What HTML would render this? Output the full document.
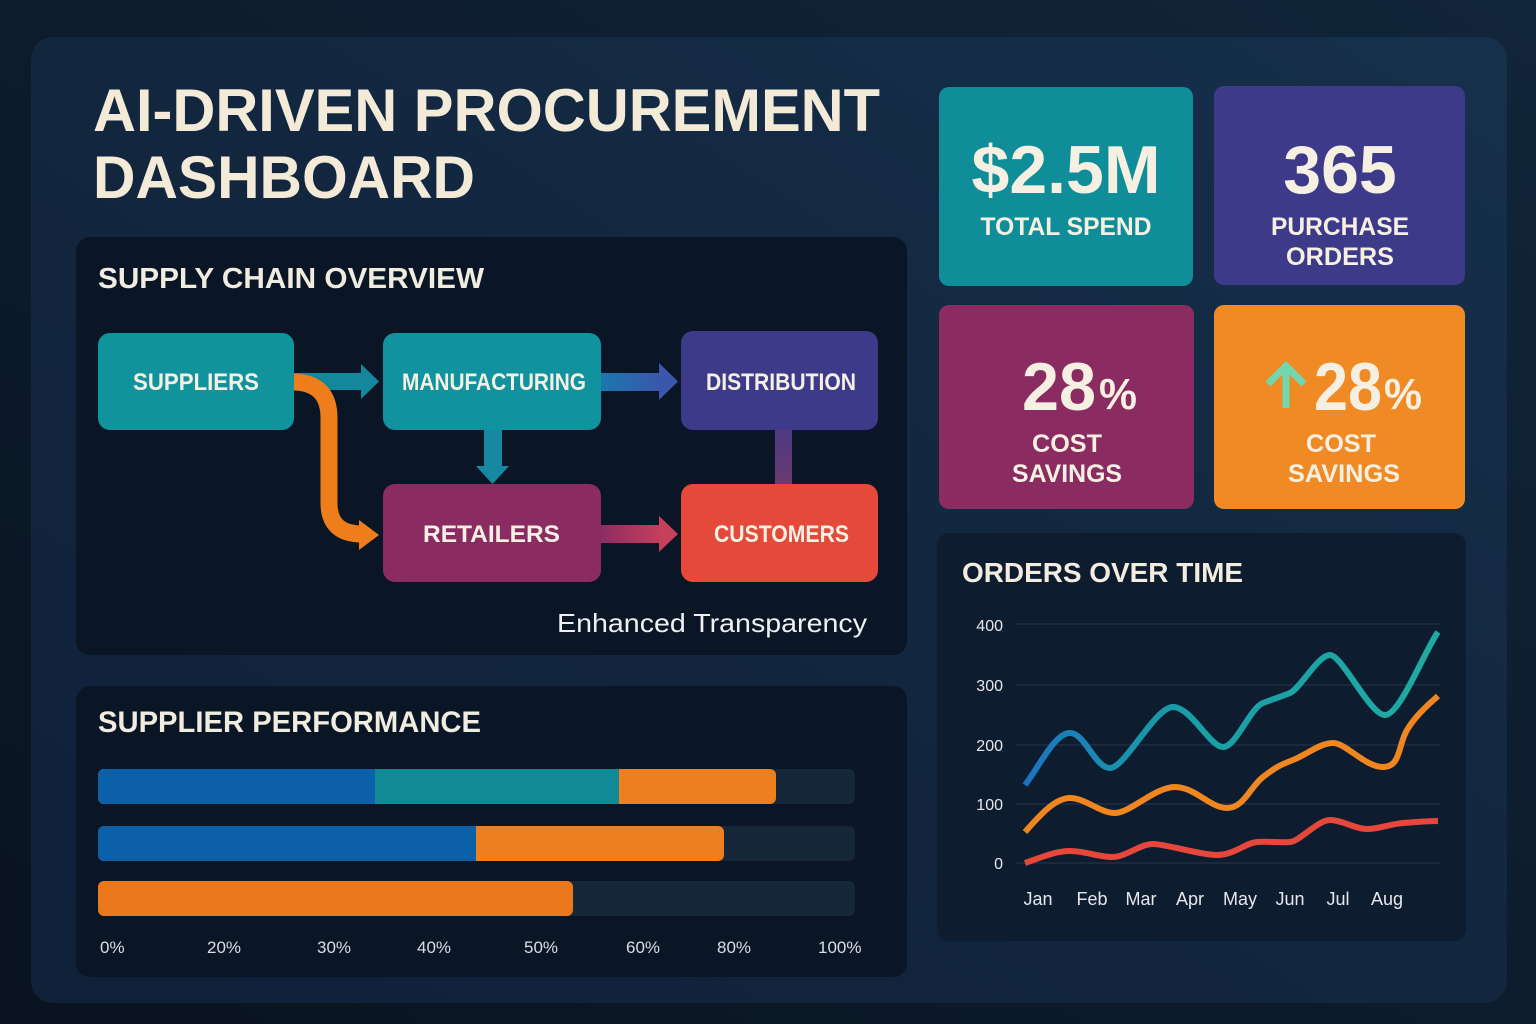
<!DOCTYPE html>
<html><head><meta charset="utf-8"><style>
html,body{margin:0;padding:0;background:#0c1a2b;}
svg{display:block;}
text{font-family:"Liberation Sans",sans-serif;}
</style></head><body>
<svg width="1536" height="1024" viewBox="0 0 1536 1024" xmlns="http://www.w3.org/2000/svg">
<defs>
<linearGradient id="bg" x1="0" y1="1" x2="1" y2="0">
<stop offset="0" stop-color="#09131f"/><stop offset="1" stop-color="#11253a"/>
</linearGradient>
<linearGradient id="panel" x1="0" y1="1" x2="1" y2="0">
<stop offset="0" stop-color="#10213a"/><stop offset="0.5" stop-color="#12263e"/><stop offset="1" stop-color="#16304b"/>
</linearGradient>
<linearGradient id="gMD" x1="0" x2="1"><stop offset="0" stop-color="#1a78ae"/><stop offset="1" stop-color="#3b55ad"/></linearGradient>
<linearGradient id="gRC" x1="0" x2="1"><stop offset="0" stop-color="#8a2c62"/><stop offset="1" stop-color="#c6405c"/></linearGradient>
<linearGradient id="gDC" x1="0" y1="0" x2="0" y2="1"><stop offset="0" stop-color="#4a3a84"/><stop offset="1" stop-color="#6d3a6e"/></linearGradient>
<linearGradient id="gTeal" gradientUnits="userSpaceOnUse" x1="1025" y1="0" x2="1438" y2="0">
<stop offset="0" stop-color="#1c72c0"/><stop offset="0.22" stop-color="#1a8fb0"/><stop offset="0.4" stop-color="#1a9ea6"/><stop offset="1" stop-color="#1faaa2"/>
</linearGradient>
</defs>
<rect width="1536" height="1024" fill="url(#bg)"/>
<rect x="31" y="37" width="1476" height="966" rx="22" fill="url(#panel)"/>

<!-- Title -->
<text x="93" y="131" font-size="60" font-weight="bold" fill="#f3ead8" textLength="787" lengthAdjust="spacingAndGlyphs">AI-DRIVEN PROCUREMENT</text>
<text x="93" y="198" font-size="60" font-weight="bold" fill="#f3ead8" textLength="382" lengthAdjust="spacingAndGlyphs">DASHBOARD</text>

<!-- Supply chain card -->
<rect x="76" y="237" width="831" height="418" rx="14" fill="#0a1625"/>
<text x="98" y="288" font-size="29" font-weight="bold" fill="#f1ece0" textLength="386" lengthAdjust="spacingAndGlyphs">SUPPLY CHAIN OVERVIEW</text>

<!-- arrows -->
<rect x="292" y="373" width="72" height="17" fill="#13879b"/>
<polygon points="361,364 379,381.5 361,399" fill="#13879b"/>
<rect x="599" y="373" width="63" height="18" fill="url(#gMD)"/>
<polygon points="659,363 678,381.5 659,400" fill="#3a57ac"/>
<rect x="484" y="428" width="18" height="40" fill="#1788a2"/>
<polygon points="476,466 509,466 492.5,484" fill="#1788a2"/>
<rect x="775" y="428" width="17" height="58" fill="url(#gDC)"/>
<rect x="599" y="525" width="63" height="18" fill="url(#gRC)"/>
<polygon points="659,516 678,534 659,552" fill="#c6405c"/>
<path d="M292 382 Q329 382 329 418 L329 503 Q329 534 362 534" fill="none" stroke="#ee7d1c" stroke-width="17"/>
<polygon points="359,520 379,535 359,550" fill="#ee7d1c"/>

<!-- boxes -->
<rect x="98" y="333" width="196" height="97" rx="12" fill="#11939e"/>
<rect x="383" y="333" width="218" height="97" rx="12" fill="#11929f"/>
<rect x="681" y="331" width="197" height="99" rx="12" fill="#3e3a8a"/>
<rect x="383" y="484" width="218" height="98" rx="12" fill="#8a2b61"/>
<rect x="681" y="484" width="197" height="98" rx="12" fill="#e4493a"/>
<text x="133" y="390" font-size="24" font-weight="bold" fill="#f5f0e4" textLength="126" lengthAdjust="spacingAndGlyphs">SUPPLIERS</text>
<text x="402" y="390" font-size="24" font-weight="bold" fill="#f5f0e4" textLength="184" lengthAdjust="spacingAndGlyphs">MANUFACTURING</text>
<text x="706" y="390" font-size="24" font-weight="bold" fill="#f5f0e4" textLength="150" lengthAdjust="spacingAndGlyphs">DISTRIBUTION</text>
<text x="423" y="542" font-size="24" font-weight="bold" fill="#f5f0e4" textLength="137" lengthAdjust="spacingAndGlyphs">RETAILERS</text>
<text x="714" y="542" font-size="24" font-weight="bold" fill="#f5f0e4" textLength="135" lengthAdjust="spacingAndGlyphs">CUSTOMERS</text>
<text x="557" y="632" font-size="26" fill="#eef0f2" textLength="310" lengthAdjust="spacingAndGlyphs">Enhanced Transparency</text>

<!-- Supplier performance -->
<rect x="76" y="686" width="831" height="291" rx="14" fill="#0a1625"/>
<text x="98" y="732" font-size="30" font-weight="bold" fill="#f1ece0" textLength="383" lengthAdjust="spacingAndGlyphs">SUPPLIER PERFORMANCE</text>
<rect x="98" y="769" width="757" height="35" rx="6" fill="#16273a"/>
<rect x="98" y="826" width="757" height="35" rx="6" fill="#16273a"/>
<rect x="98" y="881" width="757" height="35" rx="6" fill="#16273a"/>
<rect x="98" y="769" width="678" height="35" rx="6" fill="#ee7f1e"/>
<rect x="375" y="769" width="244" height="35" fill="#0f8a96"/>
<rect x="98" y="769" width="282" height="35" rx="6" fill="#0b60a9"/>
<rect x="375" y="769" width="244" height="35" fill="#0f8a96"/>
<rect x="98" y="826" width="626" height="35" rx="6" fill="#ee7f1e"/>
<rect x="98" y="826" width="378" height="35" rx="6" fill="#0b60a9"/>
<rect x="300" y="826" width="176" height="35" fill="#0b60a9"/>
<rect x="98" y="881" width="475" height="35" rx="6" fill="#ea781c"/>
<g font-size="17" fill="#d9dee6">
<text x="100" y="953">0%</text>
<text x="207" y="953">20%</text>
<text x="317" y="953">30%</text>
<text x="417" y="953">40%</text>
<text x="524" y="953">50%</text>
<text x="626" y="953">60%</text>
<text x="717" y="953">80%</text>
<text x="818" y="953">100%</text>
</g>

<!-- KPI cards -->
<rect x="939" y="87" width="254" height="199" rx="10" fill="#0f8e99"/>
<rect x="1214" y="86" width="251" height="199" rx="10" fill="#3d3a89"/>
<rect x="939" y="305" width="255" height="204" rx="10" fill="#8a2c62"/>
<rect x="1214" y="305" width="251" height="204" rx="10" fill="#f08a25"/>

<text x="1066" y="193" text-anchor="middle" font-size="68" font-weight="bold" fill="#f6f0e2">$2.5M</text>
<text x="1066" y="235" text-anchor="middle" font-size="25" font-weight="bold" fill="#f6f0e2" textLength="171" lengthAdjust="spacingAndGlyphs">TOTAL SPEND</text>
<text x="1340" y="193" text-anchor="middle" font-size="68" font-weight="bold" fill="#f6f0e2">365</text>
<text x="1340" y="235" text-anchor="middle" font-size="25" font-weight="bold" fill="#f6f0e2" textLength="138" lengthAdjust="spacingAndGlyphs">PURCHASE</text>
<text x="1340" y="265" text-anchor="middle" font-size="25" font-weight="bold" fill="#f6f0e2" textLength="108" lengthAdjust="spacingAndGlyphs">ORDERS</text>

<text x="1022" y="410" font-size="68" font-weight="bold" fill="#f6f0e2" textLength="74" lengthAdjust="spacingAndGlyphs">28</text>
<text x="1099" y="409" font-size="44" font-weight="bold" fill="#f6f0e2" textLength="38" lengthAdjust="spacingAndGlyphs">%</text>
<text x="1067" y="452" text-anchor="middle" font-size="25" font-weight="bold" fill="#f6f0e2" textLength="70" lengthAdjust="spacingAndGlyphs">COST</text>
<text x="1067" y="482" text-anchor="middle" font-size="25" font-weight="bold" fill="#f6f0e2" textLength="110" lengthAdjust="spacingAndGlyphs">SAVINGS</text>

<path d="M1286 408 L1286 370 M1268 384 L1286 366 L1304 384" fill="none" stroke="#72d6ae" stroke-width="7" stroke-linecap="butt"/>
<text x="1314" y="410" font-size="68" font-weight="bold" fill="#f6f0e2" textLength="68" lengthAdjust="spacingAndGlyphs">28</text>
<text x="1384" y="409" font-size="44" font-weight="bold" fill="#f6f0e2" textLength="38" lengthAdjust="spacingAndGlyphs">%</text>
<text x="1341" y="452" text-anchor="middle" font-size="25" font-weight="bold" fill="#f6f0e2" textLength="70" lengthAdjust="spacingAndGlyphs">COST</text>
<text x="1344" y="482" text-anchor="middle" font-size="25" font-weight="bold" fill="#f6f0e2" textLength="112" lengthAdjust="spacingAndGlyphs">SAVINGS</text>

<!-- Orders over time -->
<rect x="937" y="533" width="529" height="408" rx="12" fill="#0e1c2f"/>
<text x="962" y="582" font-size="28" font-weight="bold" fill="#f3ede0" textLength="281" lengthAdjust="spacingAndGlyphs">ORDERS OVER TIME</text>
<g stroke="#1d2f45" stroke-width="1.5">
<line x1="1016" y1="624" x2="1440" y2="624"/>
<line x1="1016" y1="685" x2="1440" y2="685"/>
<line x1="1016" y1="745" x2="1440" y2="745"/>
<line x1="1016" y1="804" x2="1440" y2="804"/>
<line x1="1016" y1="863" x2="1440" y2="863"/>
</g>
<g font-size="16" fill="#e6e8ec" text-anchor="end">
<text x="1003" y="631">400</text>
<text x="1003" y="691">300</text>
<text x="1003" y="751">200</text>
<text x="1003" y="810">100</text>
<text x="1003" y="869">0</text>
</g>
<g font-size="18" fill="#e6e8ec" text-anchor="middle">
<text x="1038" y="905">Jan</text>
<text x="1092" y="905">Feb</text>
<text x="1141" y="905">Mar</text>
<text x="1190" y="905">Apr</text>
<text x="1240" y="905">May</text>
<text x="1290" y="905">Jun</text>
<text x="1338" y="905">Jul</text>
<text x="1387" y="905">Aug</text>
</g>
<g fill="none" stroke-width="6" stroke-linecap="butt">
<path stroke="url(#gTeal)" d="M1025,785 C1040,765 1055,733 1070,733 S1095,768 1110,768 S1155,707 1173,707 S1210,747 1223,747 S1250,708 1263,703 S1280,697 1290,693 S1318,655 1330,655 S1370,715 1385,715 S1425,650 1438,632"/>
<path stroke="#f0861f" d="M1025,832 C1040,815 1055,798 1070,798 S1100,813 1115,813 S1155,787 1175,787 S1210,808 1227,808 S1250,787 1263,777 S1280,765 1293,760 S1320,743 1333,743 S1365,767 1383,767 S1398,745 1407,730 S1428,705 1438,696"/>
<path stroke="#e5483a" d="M1025,863 C1040,858 1055,851 1070,851 S1098,857 1112,857 S1140,844 1153,844 S1200,855 1217,855 S1245,843 1257,842 S1280,843 1290,842 S1318,820 1330,820 S1355,829 1367,829 S1390,824 1403,823 S1428,821 1438,821"/>
</g>
</svg>
</body></html>
